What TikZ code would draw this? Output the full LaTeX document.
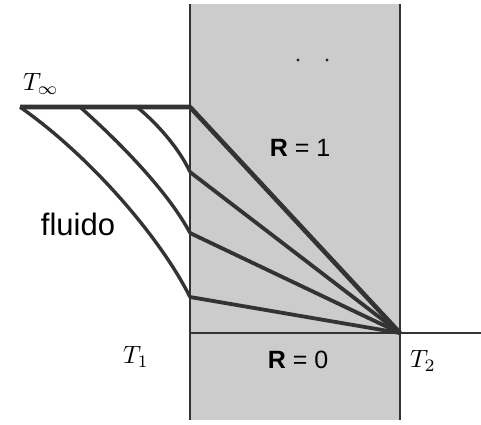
\documentclass[tikz,border=0pt]{standalone}
\usepackage{fontspec}
\setsansfont{Liberation Sans}
\usepackage{amssymb,amsmath}
\usetikzlibrary{positioning}

\begin{document}
\begin{tikzpicture}[
    x=1pt, y=-1pt, % image coordinates, y downwards
    line join=round,
    % Styling for the wall and the profiles
    wallFill/.style={fill=black!20, draw=none},
    wallEdge/.style={draw=black!80, line width=1.4pt},
    tempLine/.style={draw=black!80, line width=3.8pt},
    fluidLine/.style={draw=black!80, line width=3.4pt},
    mathLabel/.style={inner sep=0pt},
    textLabel/.style={inner sep=0pt, font=\sffamily\fontsize{25}{30}\selectfont}
]
    \useasboundingbox (0,0) rectangle (481,424);

    % Define Points
    \coordinate (F) at (400,333);
    \coordinate (W1) at (190,107);
    \coordinate (W2) at (190,172);
    \coordinate (W3) at (190,233);
    \coordinate (W4) at (190,297);
    \coordinate (S1) at (20,107);
    \coordinate (S2) at (80,107);
    \coordinate (S3) at (137,107);

    % Wall
    \path[wallFill] (190,4) rectangle (400,420);
    \draw[wallEdge] (190,4) -- (190,420);
    \draw[wallEdge] (400,4) -- (400,420);
    \draw[wallEdge] (190,333) -- (F) -- (481,333);
    \fill[black!85] (298,60) circle (1.6) (327,60) circle (1.6);

    % Draw Profiles
    \draw[tempLine, line width=4.6pt] (S1) -- (W1) -- (F);
    \draw[fluidLine] (S1) .. controls (90,156) and (160,237) .. (W4);
    \draw[fluidLine] (S2) .. controls (125,147) and (170,195) .. (W3);
    \draw[fluidLine] (S3) .. controls (159,125) and (180,150) .. (W2);
    \draw[tempLine] (W2) -- (F);
    \draw[tempLine] (W3) -- (F);
    \draw[tempLine] (W4) -- (F);

    % Define Nodes
    \node[mathLabel] (Tinf) at (41,84) {\scalebox{2.5}{$T_\infty$}};
    \node[mathLabel] (T1) at (136,357) {\scalebox{2.5}{$T_1$}};
    \node[mathLabel] (T2) at (423,361) {\scalebox{2.5}{$T_2$}};
    \node[textLabel] (R1) at (300,148) {\textbf{R} = 1};
    \node[textLabel] (R0) at (298,360) {\textbf{R} = 0};
    \node[textLabel, font=\sffamily\fontsize{31}{36}\selectfont] (fluid) at (78,224) {fluido};

\end{tikzpicture}
\end{document}
